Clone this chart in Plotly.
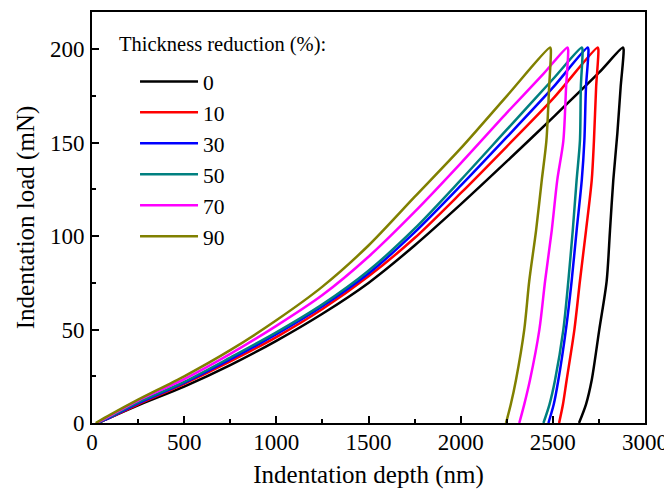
import plotly.graph_objects as go

# Thickness reduction labels (%)
labels = ["0", "10", "30", "50", "70", "90"]
colors = ["#000000", "#FF0000", "#0000FF", "#008080", "#FF00FF", "#808000"]

# Depth (nm) / load (mN): loading then unloading branch
depth_0 = [35, 100, 250, 500, 750, 1000, 1250, 1500, 1750, 2000, 2250, 2500, 2750, 2880,
           2884, 2868, 2850, 2828, 2810, 2792, 2752, 2711, 2680, 2642]
load_0 = [0, 3, 9.5, 19.5, 31, 44, 58.5, 75, 95, 117, 140, 163.5, 187.5, 201,
          200, 180, 155, 130, 103, 76, 50, 23, 10, 0]

depth_10 = [30, 100, 250, 500, 750, 1000, 1250, 1500, 1750, 2000, 2250, 2500, 2743,
            2747, 2735, 2723, 2711, 2680, 2647, 2617, 2575, 2555, 2534]
load_10 = [0, 3, 10, 21, 33, 46, 61, 78.5, 99, 123, 148, 173.5, 201,
           200, 180, 151, 130, 103, 76, 50, 23, 10, 0]

depth_30 = [30, 100, 250, 500, 750, 1000, 1250, 1500, 1750, 2000, 2250, 2500, 2689,
            2693, 2680, 2671, 2657, 2629, 2602, 2571, 2530, 2505, 2476]
load_30 = [0, 3, 10.5, 21.5, 34, 47.5, 62.5, 80, 102, 127, 153, 179.5, 201,
           200, 180, 151, 130, 103, 76, 50, 23, 10, 0]

depth_50 = [30, 100, 250, 500, 750, 1000, 1250, 1500, 1750, 2000, 2250, 2500, 2657,
            2661, 2652, 2647, 2629, 2608, 2584, 2557, 2512, 2482, 2449]
load_50 = [0, 3.5, 11, 22, 35, 48.5, 63.5, 81.5, 104, 130, 157, 184, 201,
           200, 180, 151, 130, 103, 76, 50, 23, 10, 0]

depth_70 = [25, 100, 250, 500, 750, 1000, 1250, 1500, 1750, 2000, 2250, 2450, 2579,
            2583, 2572, 2557, 2524, 2494, 2458, 2427, 2376, 2345, 2318]
load_70 = [0, 4, 12, 23.5, 37, 52, 68.5, 89, 113, 139, 166, 187, 201,
           200, 180, 151, 130, 103, 76, 50, 23, 10, 0]

depth_90 = [20, 100, 250, 500, 750, 1000, 1250, 1500, 1750, 2000, 2250, 2485,
            2489, 2480, 2465, 2440, 2409, 2372, 2345, 2300, 2272, 2246]
load_90 = [0, 4.5, 12.5, 25, 39, 55, 73, 95, 121, 147, 175, 201,
           200, 180, 151, 130, 103, 76, 50, 23, 10, 0]

depths = [depth_0, depth_10, depth_30, depth_50, depth_70, depth_90]
loads = [load_0, load_10, load_30, load_50, load_70, load_90]

x_ticks = [0, 500, 1000, 1500, 2000, 2500, 3000]
y_ticks = [0, 50, 100, 150, 200]

FONT = "Liberation Serif, Times New Roman, serif"

fig = go.Figure()
for i, lab in enumerate(labels):
    fig.add_trace(go.Scatter(
        x=depths[i], y=loads[i], mode="lines", name=lab,
        line=dict(color=colors[i], width=2.5, shape="spline", smoothing=0.8),
    ))

fig.update_layout(
    width=672, height=492,
    margin=dict(l=84, r=35, t=2, b=77),
    paper_bgcolor="white", plot_bgcolor="white",
    font=dict(family=FONT, size=22, color="black"),
    showlegend=True,
    legend=dict(
        x=0.0778, y=0.881, xanchor="left", yanchor="top",
        bgcolor="rgba(0,0,0,0)", borderwidth=0,
        font=dict(family=FONT, size=21.5, color="black"),
        itemwidth=58,
    ),
    annotations=[dict(
        text="Thickness reduction (%):", xref="paper", yref="paper",
        x=0.045, y=0.920, xanchor="left", yanchor="middle", showarrow=False,
        font=dict(family=FONT, size=20.5, color="black"),
    )],
)

fig.update_xaxes(
    range=[0, 3000], tickvals=x_ticks, ticktext=[str(v) for v in x_ticks],
    ticks="inside", ticklen=7, tickwidth=1.5, tickcolor="black",
    minor=dict(ticks="inside", ticklen=4, tickwidth=1.5, tickcolor="black", dtick=250),
    showline=True, linecolor="black", linewidth=2, mirror=True,
    showgrid=False, zeroline=False,
    title=dict(text="Indentation depth (nm)", font=dict(family=FONT, size=25), standoff=12),
    tickfont=dict(family=FONT, size=23), ticklabelstandoff=-3,
)
fig.update_yaxes(
    range=[0, 220], tickvals=y_ticks, ticktext=[str(v) for v in y_ticks],
    ticks="inside", ticklen=7, tickwidth=1.5, tickcolor="black",
    minor=dict(ticks="inside", ticklen=4, tickwidth=1.5, tickcolor="black", dtick=25),
    showline=True, linecolor="black", linewidth=2, mirror=True,
    showgrid=False, zeroline=False,
    title=dict(text="Indentation load (mN)", font=dict(family=FONT, size=25), standoff=8),
    tickfont=dict(family=FONT, size=23), ticklabelstandoff=1,
)

fig.write_html("out.html")
